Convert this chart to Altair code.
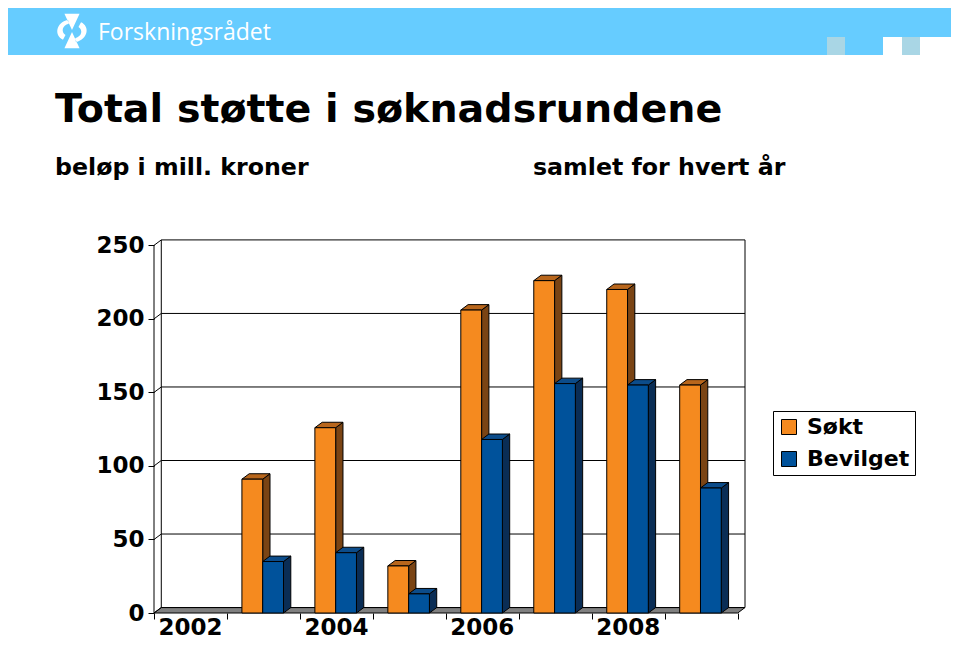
import altair as alt
import pandas as pd

# ---------------- data ----------------
years = [2002, 2003, 2004, 2005, 2006, 2007, 2008, 2009]
sokt = [None, 91, 126, 32, 206, 226, 220, 155]
bevilget = [None, 35, 41, 13, 118, 156, 155, 85]
series_names = ["Søkt", "Bevilget"]
y_ticks = [0, 50, 100, 150, 200, 250]
x_label_years = [2002, 2004, 2006, 2008]

title_text = "Total støtte i søknadsrundene"
sub_left = "beløp i mill. kroner"
sub_right = "samlet for hvert år"
logo_text = "Forskningsrådet"

# ---------------- style / geometry ----------------
front_colors = ["#F58A1F", "#00529B"]
top_colors = ["#B8661C", "#0C4C8A"]
side_colors = ["#7A4414", "#0A2D55"]
BAR0, BW = 0.205, 0.285        # bar start within category, bar width (category units)
DX, DY = 0.1, 3.7              # 3D depth offsets (x in category units, y in value units)
XMAX, YMAX = 8.1, 255
W, H = 591, 375
OX, OY = 154, 238              # page position of plot origin
FONT = "DejaVu Sans"

xs = alt.Scale(domain=[0, XMAX], nice=False, zero=False)
ys = alt.Scale(domain=[0, YMAX], nice=False, zero=False)

# ---------------- tables ----------------
front_rows, side_rows, top_rows = [], [], []
for k, yr in enumerate(years):
    for s, vals in enumerate([sokt, bevilget]):
        v = vals[k]
        if v is None:
            continue
        xl = k + BAR0 + s * BW
        xr = xl + BW
        bid = f"{yr}-{s}"
        front_rows.append({"series": series_names[s], "x0": xl, "x1": xr, "v": v, "base": 0})
        side_rows.append({"bar": bid, "x": xr, "lo": 0, "hi": v, "shade": side_colors[s]})
        side_rows.append({"bar": bid, "x": xr + DX, "lo": DY, "hi": v + DY, "shade": side_colors[s]})
        top_rows.append({"bar": bid, "y": v, "xa": xl, "xb": xr, "shade": top_colors[s]})
        top_rows.append({"bar": bid, "y": v + DY, "xa": xl + DX, "xb": xr + DX, "shade": top_colors[s]})
front_df = pd.DataFrame(front_rows)
side_df = pd.DataFrame(side_rows)
top_df = pd.DataFrame(top_rows)

n_cat = len(years)
floor_df = pd.DataFrame([
    {"y": 0, "xa": 0, "xb": n_cat},
    {"y": DY, "xa": DX, "xb": XMAX},
])

rule_rows = []
for v in y_ticks:
    rule_rows.append({"x": DX, "x2": XMAX, "y": v + DY, "y2": v + DY})   # back-wall grid
    rule_rows.append({"x": 0, "x2": DX, "y": v, "y2": v + DY})           # side-wall diagonal
top_v = y_ticks[-1]
rule_rows.append({"x": 0, "x2": 0, "y": 0, "y2": top_v})
rule_rows.append({"x": DX, "x2": DX, "y": DY, "y2": top_v + DY})
rule_rows.append({"x": XMAX, "x2": XMAX, "y": DY, "y2": top_v + DY})
rule_df = pd.DataFrame(rule_rows)

xlab_df = pd.DataFrame({"year": [str(y) for y in x_label_years],
                        "xc": [years.index(y) + 0.5 for y in x_label_years]})

# ---------------- axes (shared by every layer) ----------------
x_axis = alt.Axis(values=list(range(n_cat + 1)), labels=False, domain=False, grid=False,
                  ticks=True, tickColor="black", tickSize=6, tickWidth=1, title=None)
y_axis = alt.Axis(values=y_ticks, grid=False, domain=False, ticks=True, tickColor="black",
                  tickSize=6, tickWidth=1, labelFont=FONT, labelFontWeight="bold",
                  labelFontSize=23, labelColor="black", labelPadding=4, title=None,
                  labelOverlap=False, labelFlush=False)


def X(f):
    return alt.X(f, scale=xs, axis=x_axis, title=None)


def Y(f):
    return alt.Y(f, scale=ys, axis=y_axis, title=None)


# ---------------- decoration ----------------
def P(px, py):
    return alt.value(px - OX), alt.value(py - OY)


def band(x1, y1, x2, y2, color):
    a, b = P(x1, y1)
    c, d = P(x2, y2)
    return alt.Chart(pd.DataFrame({"k": [0]})).mark_rect(color=color).encode(x=a, y=b, x2=c, y2=d)


banner = [
    band(8, 8, 883, 55, "#66CCFF"),
    band(883, 8, 951, 37, "#66CCFF"),
    band(827, 37, 845, 55, "#A9D6E5"),
    band(902, 37, 920, 55, "#A9D6E5"),
]

logo_path = ("M -0.42 -0.95 L 0.42 -0.95 L 0 -0.06 Z "
             "M 0 0.06 L 0.42 0.95 L -0.42 0.95 Z "
             "M -0.22 -0.62 C -0.9 -0.45 -1.0 0.25 -0.5 0.48 L -0.36 0.22 "
             "C -0.62 0.05 -0.55 -0.3 -0.18 -0.4 Z "
             "M 0.22 0.62 C 0.9 0.45 1.0 -0.25 0.5 -0.48 L 0.36 -0.22 "
             "C 0.62 -0.05 0.55 0.3 0.18 0.4 Z")
lx, ly = P(72, 31)
logo = alt.Chart(pd.DataFrame({"k": [0]})).mark_point(
    shape=logo_path, filled=True, fill="white", size=1300, opacity=1, strokeWidth=0
).encode(x=lx, y=ly)


def text(t, px, py, size, weight="bold", color="black", font=FONT):
    a, b = P(px, py)
    return alt.Chart(pd.DataFrame({"t": [t]})).mark_text(
        align="left", baseline="alphabetic", font=font, fontSize=size,
        fontWeight=weight, color=color
    ).encode(x=a, y=b, text="t:N")


texts = [
    text(logo_text, 98, 40, 23, weight="normal", color="white", font="Open Sans"),
    text(title_text, 55, 122, 39.6),
    text(sub_left, 55, 175, 23.7),
    text(sub_right, 533, 175, 23.7),
]

# ---------------- chart layers ----------------
floor = alt.Chart(floor_df).mark_area(
    orient="horizontal", fill="#808080", stroke="black", strokeWidth=1
).encode(y=Y("y:Q"), x=X("xa:Q"), x2="xb:Q")

rules = alt.Chart(rule_df).mark_rule(color="black", strokeWidth=1).encode(
    x=X("x:Q"), x2="x2:Q", y=Y("y:Q"), y2="y2:Q",
)

sides = alt.Chart(side_df).mark_area(stroke="black", strokeWidth=1, opacity=1).encode(
    x=X("x:Q"), y=Y("hi:Q"), y2="lo:Q",
    fill=alt.Fill("shade:N", scale=None),
    detail="bar:N",
)

tops = alt.Chart(top_df).mark_area(orient="horizontal", stroke="black", strokeWidth=1, opacity=1).encode(
    y=Y("y:Q"), x=X("xa:Q"), x2="xb:Q",
    fill=alt.Fill("shade:N", scale=None),
    detail="bar:N",
)

fronts = alt.Chart(front_df).mark_rect(stroke="black", strokeWidth=1, opacity=1).encode(
    x=X("x0:Q"), x2="x1:Q",
    y=Y("v:Q"), y2="base:Q",
    color=alt.Color(
        "series:N",
        scale=alt.Scale(domain=series_names, range=front_colors),
        legend=alt.Legend(
            orient="none", legendX=619, legendY=173, title=None,
            strokeColor="black", fillColor="white", padding=5, cornerRadius=0,
            symbolType="square", symbolSize=225, symbolStrokeColor="black",
            symbolStrokeWidth=1, symbolOpacity=1,
            labelFont=FONT, labelFontWeight="bold", labelFontSize=22,
            labelColor="black", rowPadding=10, labelOffset=7,
        ),
    ),
)

xlabels = alt.Chart(xlab_df).mark_text(
    align="center", baseline="alphabetic", font=FONT, fontSize=23,
    fontWeight="bold", color="black"
).encode(
    x=X("xc:Q"),
    y=alt.value(635 - OY),
    text="year:N",
)

chart = alt.layer(
    *banner, logo, *texts, floor, rules, sides, tops, fronts, xlabels
).properties(
    width=W, height=H,
    padding={"left": OX - 8, "top": OY - 8, "right": 943 - (OX - 8) - W, "bottom": 632 - (OY - 8) - H},
    autosize=alt.AutoSizeParams(type="none"),
    background="white",
).configure_view(strokeWidth=0)

chart.save("out.html", embed_options={"renderer": "svg", "actions": False})
